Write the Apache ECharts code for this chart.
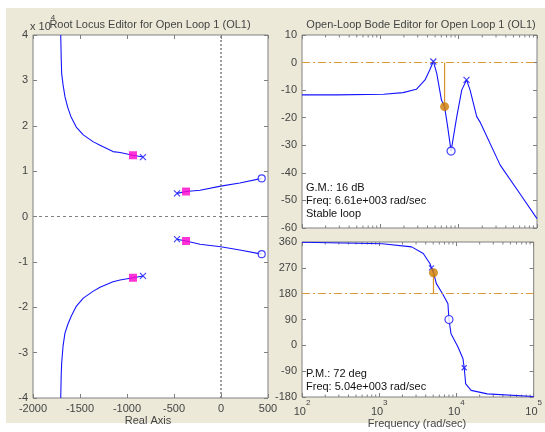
<!DOCTYPE html>
<html>
<head>
<meta charset="utf-8">
<script src="https://cdn.jsdelivr.net/npm/echarts@6/dist/echarts.min.js"></script>
<style>
html, body { margin: 0; padding: 0; background: #fff; }
#chart { width: 545px; height: 432px; }
</style>
</head>
<body>
<div id="chart"></div>
<script>
// root locus branches: [real, imag (x 10^4)]
const rlUpperLeft = [[-830, 1.31], [-936, 1.35], [-1074, 1.41], [-1149, 1.43], [-1287, 1.57], [-1362, 1.65],
  [-1465, 1.8], [-1540, 1.97], [-1596, 2.2], [-1630, 2.4], [-1660, 2.64], [-1680, 2.9], [-1695, 3.15], [-1700, 3.5], [-1705, 4.0]]
const rlLowerLeft = [[-830, -1.31], [-936, -1.35], [-1074, -1.40], [-1149, -1.44], [-1287, -1.56], [-1362, -1.65],
  [-1465, -1.8], [-1540, -1.98], [-1596, -2.21], [-1630, -2.38], [-1660, -2.57], [-1680, -2.85], [-1695, -3.23], [-1700, -3.5], [-1705, -4.0]]
const rlUpperRight = [[-468, 0.51], [-372, 0.55], [-223, 0.58], [-3, 0.67], [200, 0.74], [433, 0.84]]
const rlLowerRight = [[-468, -0.50], [-372, -0.54], [-223, -0.61], [-3, -0.665], [200, -0.74], [433, -0.83]]
const rlPoles = [[-830, 1.31], [-830, -1.31], [-468, 0.51], [-468, -0.50]]
const rlZeros = [[433, 0.84], [433, -0.83]]
const rlGains = [[-936, 1.35], [-936, -1.35], [-372, 0.55], [-372, -0.54]]

// bode: [frequency rad/sec, value]
const magData = [[100, -11.7], [275, -11.7], [1100, -11.5], [1950, -10.9], [2880, -9.7], [3720, -6.3], [4270, -2.7],
  [4750, 0.4], [5250, -3.9], [6030, -13.6], [6610, -16], [7240, -23.3], [8000, -32.1], [9460, -19.6], [10960, -9.9],
  [12600, -6.3], [14000, -10], [17000, -19.6], [18700, -21.5], [33900, -37.2], [60300, -47.5], [100000, -56.6]]
const phaseData = [[100, 359], [1100, 354], [2630, 343], [3720, 320], [4530, 285], [4750, 270], [5040, 253], [5500, 215],
  [6610, 180], [7760, 145], [8000, 90], [8510, 40], [10470, -6], [12160, -47], [12600, -78], [13180, -134],
  [15500, -157], [25100, -169], [100000, -178]]
const magPoles = [[4750, 0.4], [12600, -6.3]]
const magZeros = [[8000, -32.1]]
const phasePoles = [[4750, 270], [12600, -78]]
const phaseZeros = [[8000, 90]]
const gmPoint = [6610, -16]
const pmPoint = [5040, 253]

const decades = [100, 1000, 10000]
const minorSteps = [2, 3, 4, 5, 6, 7, 8, 9]

const blue = '#1414ff'
const frame = '#808080'
const txt = '#444'
const font = 'Liberation Sans'

const chart = echarts.init(document.getElementById('chart'))

const linAxis = (grid, min, max, interval, position, labels) => ({
  type: 'value', gridIndex: grid, min, max, interval, position,
  axisLine: { show: false, onZero: false },
  axisTick: { show: true, inside: true, length: 4, lineStyle: { color: frame } },
  axisLabel: { show: labels, color: txt, fontSize: 11, fontFamily: font, margin: 5, formatter: v => String(v) },
  splitLine: { show: false }
})

const logAxis = (grid, position, labels) => ({
  type: 'log', logBase: 10, gridIndex: grid, min: 100, max: 100000, position,
  axisLine: { show: false, onZero: false },
  axisTick: { show: true, inside: true, length: 4, lineStyle: { color: frame } },
  axisLabel: {
    show: labels, margin: 2,
    formatter: v => '{b|10}{s|' + Math.round(Math.log10(v)) + '}',
    rich: {
      b: { fontSize: 11, fontFamily: font, color: txt, lineHeight: 18, verticalAlign: 'bottom' },
      s: { fontSize: 8, fontFamily: font, color: txt, lineHeight: 18, verticalAlign: 'top' }
    }
  },
  splitLine: { show: false }
})

const minorFreqs = []
decades.forEach(d => minorSteps.forEach(m => minorFreqs.push(d * m)))

const minorTicks = (xi, yi, midY) => ({
  type: 'custom', xAxisIndex: xi, yAxisIndex: yi, silent: true,
  data: minorFreqs.map(f => [f, midY]),
  renderItem: (params, api) => {
    const cs = params.coordSys
    const x = api.coord([api.value(0), api.value(1)])[0]
    return {
      type: 'group', children: [
        { type: 'line', shape: { x1: x, y1: cs.y, x2: x, y2: cs.y + 2.5 }, style: { stroke: frame, lineWidth: 1 } },
        { type: 'line', shape: { x1: x, y1: cs.y + cs.height, x2: x, y2: cs.y + cs.height - 2.5 }, style: { stroke: frame, lineWidth: 1 } }
      ]
    }
  }
})

const curve = (xi, yi, data, extra) => Object.assign({
  type: 'line', xAxisIndex: xi, yAxisIndex: yi, data, showSymbol: false, symbol: 'none',
  lineStyle: { color: blue, width: 1.1 }, silent: true, z: 3
}, extra || {})

const crossSym = 'path://M0,0L10,10M10,0L0,10'
const markers = (xi, yi, data, symbol, size) => ({
  type: 'scatter', xAxisIndex: xi, yAxisIndex: yi, data, symbol, symbolSize: size, silent: true, z: 5,
  itemStyle: { color: symbol === 'circle' ? '#fff' : 'rgba(0,0,0,0)', borderColor: blue, borderWidth: 1.2 }
})

const dashDot = (yVal) => ({
  silent: true, symbol: 'none', label: { show: false },
  lineStyle: { color: '#de9a3a', width: 1, type: [8, 3, 2, 3] },
  data: [{ yAxis: yVal }]
})

chart.setOption({
  backgroundColor: '#ece9d8',
  animation: false,
  textStyle: { fontFamily: font },
  grid: [
    { left: 33, top: 35, width: 235, height: 363, show: true, backgroundColor: '#fff', borderColor: frame, borderWidth: 1 },
    { left: 302, top: 35, width: 235, height: 193, show: true, backgroundColor: '#fff', borderColor: frame, borderWidth: 1 },
    { left: 302, top: 242, width: 235, height: 155, show: true, backgroundColor: '#fff', borderColor: frame, borderWidth: 1 }
  ],
  xAxis: [
    linAxis(0, -2000, 500, 500, 'bottom', true),
    linAxis(0, -2000, 500, 500, 'top', false),
    logAxis(1, 'bottom', false),
    logAxis(1, 'top', false),
    logAxis(2, 'bottom', true),
    logAxis(2, 'top', false)
  ],
  yAxis: [
    linAxis(0, -4, 4, 1, 'left', true),
    linAxis(0, -4, 4, 1, 'right', false),
    linAxis(1, -60, 10, 10, 'left', true),
    linAxis(1, -60, 10, 10, 'right', false),
    linAxis(2, -180, 360, 90, 'left', true),
    linAxis(2, -180, 360, 90, 'right', false)
  ],
  graphic: [
    { type: 'rect', shape: { x: 0, y: 0, width: 545, height: 8 }, style: { fill: '#fff' }, silent: true },
    { type: 'rect', shape: { x: 0, y: 0, width: 6, height: 432 }, style: { fill: '#fff' }, silent: true },
    { type: 'rect', shape: { x: 0, y: 423, width: 545, height: 9 }, style: { fill: '#fff' }, silent: true },
    { type: 'text', left: 30, top: 14, silent: true,
      style: { text: '{a|x 10}{s|4}', rich: {
        a: { fontSize: 11, fontFamily: font, fill: txt, lineHeight: 18, verticalAlign: 'bottom' },
        s: { fontSize: 8, fontFamily: font, fill: txt, lineHeight: 18, verticalAlign: 'top' } } } },
    { type: 'text', x: 150, y: 25, silent: true,
      style: { text: 'Root Locus Editor for Open Loop 1 (OL1)', fontSize: 11, fontFamily: font, fill: txt, align: 'center', verticalAlign: 'middle' } },
    { type: 'text', x: 421, y: 25, silent: true,
      style: { text: 'Open-Loop Bode Editor for Open Loop 1 (OL1)', fontSize: 11, fontFamily: font, fill: txt, align: 'center', verticalAlign: 'middle' } },
    { type: 'text', x: 148, y: 421, silent: true,
      style: { text: 'Real Axis', fontSize: 11, fontFamily: font, fill: txt, align: 'center', verticalAlign: 'middle' } },
    { type: 'text', x: 417, y: 424, silent: true,
      style: { text: 'Frequency (rad/sec)', fontSize: 11, fontFamily: font, fill: txt, align: 'center', verticalAlign: 'middle' } },
    { type: 'text', x: 306, y: 181, silent: true, z: 10,
      style: { text: 'G.M.: 16 dB\nFreq: 6.61e+003 rad/sec\nStable loop', fontSize: 11, fontFamily: font, fill: '#111', lineHeight: 13 } },
    { type: 'text', x: 306, y: 367, silent: true, z: 10,
      style: { text: 'P.M.: 72 deg\nFreq: 5.04e+003 rad/sec', fontSize: 11, fontFamily: font, fill: '#111', lineHeight: 13 } }
  ],
  series: [
    // root locus
    curve(0, 0, rlUpperLeft, {
      markLine: {
        silent: true, symbol: 'none', label: { show: false },
        lineStyle: { color: '#808080', width: 1, type: [3, 3] },
        data: [{ yAxis: 0 }, { xAxis: 0, lineStyle: { type: [2, 2], width: 1.5 } }]
      }
    }),
    curve(0, 0, rlLowerLeft),
    curve(0, 0, rlUpperRight),
    curve(0, 0, rlLowerRight),
    markers(0, 0, rlPoles, crossSym, 6),
    markers(0, 0, rlZeros, 'circle', 7),
    { type: 'scatter', xAxisIndex: 0, yAxisIndex: 0, data: rlGains, symbol: 'rect', symbolSize: 8,
      itemStyle: { color: '#ff00cc' }, silent: true, z: 6 },

    // magnitude
    minorTicks(2, 2, -30),
    curve(2, 2, magData, { markLine: dashDot(0) }),
    curve(2, 2, [[gmPoint[0], 0], gmPoint], { lineStyle: { color: '#d8922a', width: 1.2 }, z: 4 }),
    markers(2, 2, magPoles, crossSym, 6),
    markers(2, 2, magZeros, 'circle', 8),
    { type: 'scatter', xAxisIndex: 2, yAxisIndex: 2, data: [gmPoint], symbol: 'circle', symbolSize: 9,
      itemStyle: { color: '#cc7c00' }, silent: true, z: 6 },

    // phase
    minorTicks(4, 4, 90),
    curve(4, 4, phaseData, { markLine: dashDot(180) }),
    curve(4, 4, [[pmPoint[0], 180], pmPoint], { lineStyle: { color: '#d8922a', width: 1.2 }, z: 4 }),
    markers(4, 4, phasePoles, crossSym, 5),
    markers(4, 4, phaseZeros, 'circle', 8),
    { type: 'scatter', xAxisIndex: 4, yAxisIndex: 4, data: [pmPoint], symbol: 'circle', symbolSize: 9,
      itemStyle: { color: '#cc7c00' }, silent: true, z: 6 }
  ]
})
</script>
</body>
</html>
